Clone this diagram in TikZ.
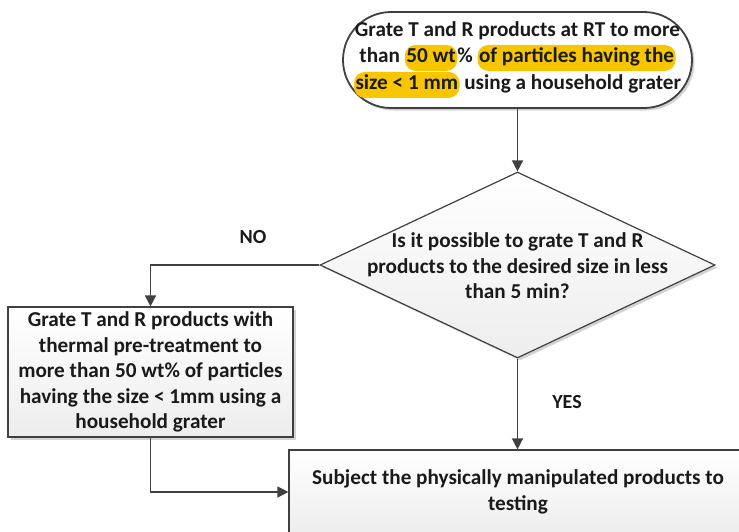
\documentclass[tikz,border=0pt]{standalone}
\usepackage{fontspec}
\setmainfont{Carlito}
\usetikzlibrary{shadows,arrows.meta,shapes.geometric}
\definecolor{hl}{HTML}{F7C600}
\definecolor{edgec}{HTML}{404040}
\definecolor{txtc}{HTML}{1A1A1A}
\newcommand{\hlt}[1]{\tikz[baseline=(h.base)]\node[fill=hl,draw=none,rounded corners=11pt,inner xsep=1.5pt,inner ysep=3pt,text height=14.5pt,text depth=5.5pt,anchor=base](h){#1};}
\tikzset{
  txt/.style={font=\bfseries\fontsize{21.2}{25.5}\selectfont, text=txtc, align=center, inner sep=0pt},
  shadowed/.style={drop shadow={shadow xshift=2.5pt, shadow yshift=-2.5pt, opacity=0.35, fill=gray}},
  stadium/.style={draw=edgec, line width=1.8pt, fill=white, rounded corners=48pt, minimum width=349pt, minimum height=96pt, inner sep=0pt, shadowed},
  decision/.style={shape=diamond, draw=edgec, line width=1.2pt, top color=white, bottom color=gray!14, minimum width=395pt, minimum height=186pt, inner sep=0pt, shadowed},
  procbox/.style={txt, draw=edgec, line width=1.2pt, top color=white, bottom color=gray!14, shadowed},
  conn/.style={draw=edgec, line width=1.5pt, -{Triangle[length=11pt,width=11pt]}},
  lbl/.style={font=\bfseries\fontsize{20}{24}\selectfont, text=txtc, inner sep=0pt}
}
\begin{document}
\begin{tikzpicture}[x=1pt, y=-1pt]
\useasboundingbox (0,0) rectangle (739,531);
\clip (0,0) rectangle (739,531);
\node[stadium] (start) at (517.5,60) {};
\node[txt] (starttext) at (start) {Grate T and R products at RT to more\\than \hlt{50 wt}\%~\hlt{of particles having the}\\\hlt{size < 1 mm} using a household grater};
\node[decision] (dec) at (517.5,265) {};
\node[txt] (dectext) at (517.5,266) {Is it possible to grate T and R\\products to the desired size in less\\than 5 min?};
\node[procbox, minimum width=285pt, minimum height=130pt] (alt) at (150.5,372) {Grate T and R products with\\thermal pre-treatment to\\more than 50 wt\% of particles\\having the size < 1mm using a\\household grater};
\node[procbox, minimum width=458pt, minimum height=84pt] (test) at (518,492) {Subject the physically manipulated products to\\testing};
\node[lbl] (no) at (253,237) {NO};
\node[lbl] (yes) at (567,402) {YES};
\draw[conn] (start.south) -- (dec.north);
\draw[conn] (dec.west) -| (alt.north);
\draw[conn] (dec.south) -- (dec.south |- test.north);
\draw[conn] (alt.south) |- (test.west);
\end{tikzpicture}
\end{document}
